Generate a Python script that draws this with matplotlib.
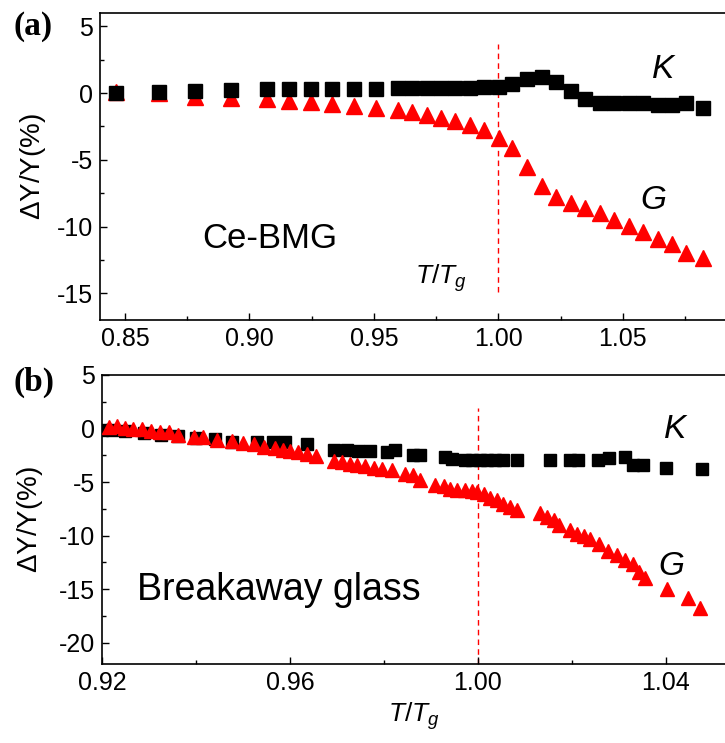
import numpy as np
import matplotlib
matplotlib.use("Agg")
import matplotlib.pyplot as plt
from matplotlib.ticker import MultipleLocator

plt.rcParams['font.family'] = ['Liberation Sans', 'DejaVu Sans']
plt.rcParams['mathtext.fontset'] = 'custom'
plt.rcParams['mathtext.rm'] = 'Liberation Sans'
plt.rcParams['mathtext.it'] = 'Liberation Sans:italic'
plt.rcParams['axes.unicode_minus'] = False

# (a) Ce-BMG
t_a = [0.8464, 0.8637, 0.8781, 0.8926, 0.9070, 0.9159, 0.9247, 0.9331, 0.9420, 0.9508,
       0.9596, 0.9653, 0.9713, 0.9769, 0.9825, 0.9886, 0.9942, 1.0002, 1.0054, 1.0114,
       1.0175, 1.0231, 1.0291, 1.0347, 1.0408, 1.0464, 1.0524, 1.0580, 1.0641, 1.0697,
       1.0753, 1.0821]
K_a = [0.0, 0.1, 0.15, 0.2, 0.28, 0.3, 0.3, 0.3, 0.3, 0.3,
       0.4, 0.4, 0.4, 0.4, 0.4, 0.4, 0.42, 0.48, 0.68, 1.03,
       1.18, 0.85, 0.18, -0.45, -0.72, -0.75, -0.75, -0.73, -0.9, -0.9,
       -0.78, -1.15]
G_a = [0.05, 0.0, -0.3, -0.4, -0.47, -0.58, -0.7, -0.82, -0.95, -1.1,
       -1.3, -1.45, -1.65, -1.9, -2.1, -2.4, -2.8, -3.35, -4.15, -5.5,
       -6.95, -7.8, -8.2, -8.6, -9.0, -9.5, -9.95, -10.4, -10.9, -11.3,
       -12.0, -12.35]

# (b) Breakaway glass
t_b_K = [0.9200, 0.9221, 0.9250, 0.9289, 0.9325, 0.9361, 0.9400, 0.9440, 0.9477, 0.9530,
         0.9565, 0.9590, 0.9637, 0.9693, 0.9722, 0.9745, 0.9770, 0.9806, 0.9824, 0.9863,
         0.9877, 0.9930, 0.9945, 0.9973, 0.9987, 1.0005, 1.0019, 1.0037, 1.0054, 1.0083,
         1.0154, 1.0196, 1.0214, 1.0255, 1.0280, 1.0313, 1.0331, 1.0352, 1.0400, 1.0477]
K_b = [-0.1, -0.12, -0.25, -0.45, -0.6, -0.72, -0.85, -1.0, -1.3, -1.28,
       -1.3, -1.3, -1.45, -2.0, -2.05, -2.1, -2.1, -2.2, -2.05, -2.5,
       -2.5, -2.67, -2.83, -2.98, -2.98, -2.98, -2.98, -2.98, -2.98, -2.92,
       -2.92, -2.92, -2.92, -2.9, -2.75, -2.62, -3.45, -3.45, -3.72, -3.8]
t_b_G = [0.9214, 0.9232, 0.9250, 0.9267, 0.9286, 0.9304, 0.9324, 0.9342, 0.9361, 0.9395,
         0.9416, 0.9445, 0.9477, 0.9501, 0.9523, 0.9544, 0.9569, 0.9586, 0.9601, 0.9618,
         0.9636, 0.9656, 0.9693, 0.9711, 0.9728, 0.9743, 0.9760, 0.9778, 0.9796, 0.9817,
         0.9845, 0.9863, 0.9877, 0.9909, 0.9927, 0.9941, 0.9955, 0.9973, 0.9987, 0.9998,
         1.0012, 1.0026, 1.0040, 1.0054, 1.0069, 1.0083, 1.0133, 1.0147, 1.0161, 1.0172,
         1.0196, 1.0211, 1.0225, 1.0239, 1.0257, 1.0278, 1.0296, 1.0313, 1.0331, 1.0342,
         1.0356, 1.0402, 1.0448, 1.0472]
G_b = [0.12, 0.19, 0.06, -0.03, -0.09, -0.19, -0.28, -0.34, -0.56, -0.75,
       -0.81, -1.03, -1.18, -1.33, -1.49, -1.68, -1.83, -1.99, -2.11, -2.24,
       -2.36, -2.58, -3.08, -3.14, -3.29, -3.39, -3.52, -3.67, -3.76, -3.91,
       -4.22, -4.38, -4.85, -5.31, -5.41, -5.62, -5.78, -5.78, -5.84, -5.94,
       -6.09, -6.46, -6.65, -7.02, -7.33, -7.58, -7.89, -8.27, -8.57, -9.04,
       -9.44, -9.82, -10.07, -10.28, -10.75, -11.43, -11.84, -12.30, -12.67, -13.39,
       -14.01, -14.95, -15.8, -16.8]


def style_axes(ax, label_x):
    ax.spines['right'].set_visible(False)
    for s in ['left', 'bottom', 'top']:
        ax.spines[s].set_linewidth(1.2)
    ax.tick_params(which='both', direction='in', top=False, right=False,
                   labelsize=18, width=1.0)
    ax.tick_params(which='major', length=5, pad=5)
    ax.tick_params(which='minor', length=3)
    ax.set_ylabel(r'$\Delta$Y/Y(%)', fontsize=20)
    ax.yaxis.set_label_coords(label_x, 0.5)


fig = plt.figure(figsize=(7.25, 7.43), dpi=100)
ax1 = fig.add_axes([100/725, 1-320/743, 625/725, 307/743])
ax2 = fig.add_axes([102/725, 1-664/743, 623/725, 289/743])

# panel (a)
ax1.plot(t_a, K_a, 's', color='black', ms=9.5, zorder=3)
ax1.plot(t_a, G_a, '^', color='red', ms=11, zorder=2)
ax1.axvline(1.0, ymin=0.09, ymax=0.9, color='red', ls=(0, (4, 3)), lw=1.0, zorder=1)
ax1.set_xlim(0.84, 1.091)
ax1.set_ylim(-17, 6)
ax1.xaxis.set_major_locator(MultipleLocator(0.05))
ax1.xaxis.set_minor_locator(MultipleLocator(0.025))
ax1.yaxis.set_major_locator(MultipleLocator(5))
ax1.yaxis.set_minor_locator(MultipleLocator(2.5))
ax1.xaxis.set_major_formatter(plt.FormatStrFormatter('%.2f'))
style_axes(ax1, -0.083)
ax1.text(0.8809, -11.58, 'Ce-BMG', fontsize=25, ha='left', va='baseline')
ax1.text(1.0665, 1.1, r'$K$', fontsize=24, ha='center', va='baseline')
ax1.text(1.062, -8.66, r'$G$', fontsize=24, ha='center', va='baseline')
ax1.text(0.9665, -14.3, r'$T/T_g$', fontsize=19, ha='left', va='baseline')

# panel (b)
ax2.plot(t_b_K, K_b, 's', color='black', ms=9, zorder=2)
ax2.plot(t_b_G, G_b, '^', color='red', ms=10, zorder=3)
ax2.axvline(1.0, ymin=0.0, ymax=0.885, color='red', ls=(0, (4, 3)), lw=1.0, zorder=1)
ax2.set_xlim(0.92, 1.0526)
ax2.set_ylim(-22, 5)
ax2.xaxis.set_major_locator(MultipleLocator(0.04))
ax2.xaxis.set_minor_locator(MultipleLocator(0.02))
ax2.yaxis.set_major_locator(MultipleLocator(5))
ax2.yaxis.set_minor_locator(MultipleLocator(2.5))
ax2.xaxis.set_major_formatter(plt.FormatStrFormatter('%.2f'))
style_axes(ax2, -0.092)
ax2.set_xlabel(r'$T/T_g$', fontsize=19, labelpad=4)
ax2.text(0.9275, -16.03, 'Breakaway glass', fontsize=27, ha='left', va='baseline')
ax2.text(1.0422, -0.84, r'$K$', fontsize=24, ha='center', va='baseline')
ax2.text(1.0412, -13.7, r'$G$', fontsize=24, ha='center', va='baseline')

fig.text(33/725, 1-27/743, '(a)', fontsize=24, fontweight='bold',
         family='Liberation Serif', ha='center', va='center')
fig.text(34/725, 1-382/743, '(b)', fontsize=24, fontweight='bold',
         family='Liberation Serif', ha='center', va='center')

fig.savefig('out.png', dpi=100)
